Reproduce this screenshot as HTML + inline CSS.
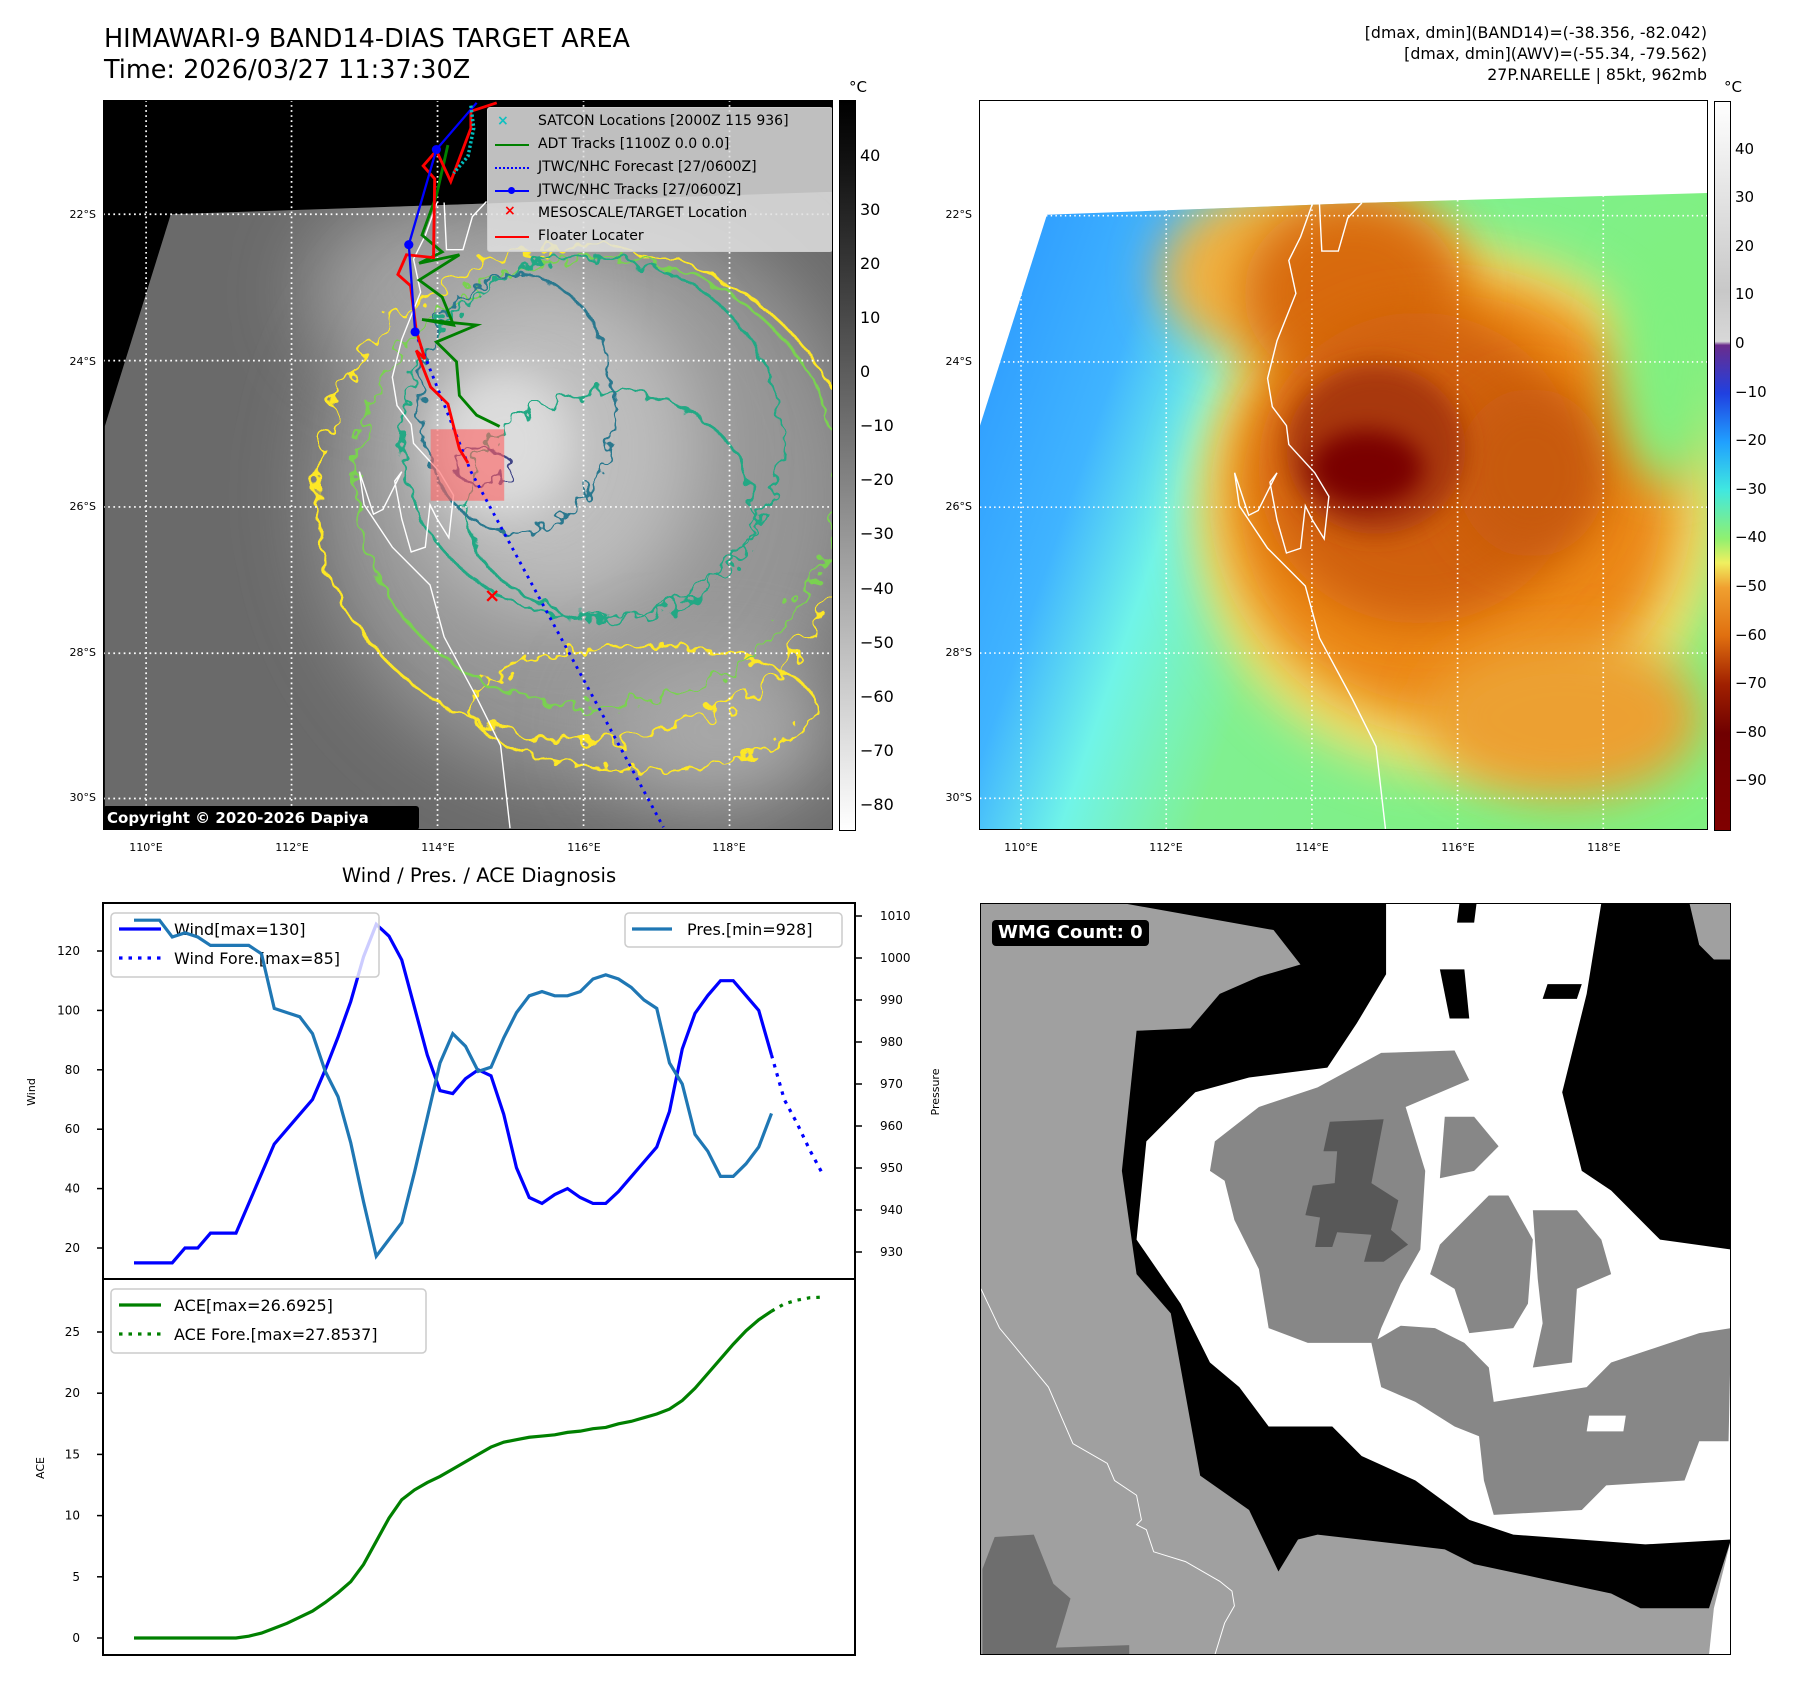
<!DOCTYPE html>
<html><head><meta charset="utf-8"><style>
body{margin:0;background:#fff;width:1797px;height:1690px;position:relative;overflow:hidden;font-family:"DejaVu Sans","Liberation Sans",sans-serif}
.t{position:absolute;white-space:nowrap;color:#000}
svg{position:absolute}
</style></head><body>

<div class="t" style="left:104px;top:24px;font-size:25.5px;line-height:31px">HIMAWARI-9 BAND14-DIAS TARGET AREA<br>Time: 2026/03/27 11:37:30Z</div>
<div class="t" style="right:90px;top:22px;font-size:15.8px;line-height:21px;text-align:right">[dmax, dmin](BAND14)=(-38.356, -82.042)<br>[dmax, dmin](AWV)=(-55.34, -79.562)<br>27P.NARELLE | 85kt, 962mb</div>

<!-- LEFT MAP -->
<svg style="left:103px;top:100px" width="730" height="730" viewBox="180 180 1270 1297" preserveAspectRatio="none">
<defs>
<clipPath id="dp"><polygon points="298,383 1450,343 1450,1477 183,1477 183,760"/></clipPath>
<filter id="b80" x="-50%" y="-50%" width="200%" height="200%"><feGaussianBlur stdDeviation="70"/></filter>
<filter id="b40" x="-50%" y="-50%" width="200%" height="200%"><feGaussianBlur stdDeviation="35"/></filter>
<filter id="wig" x="-20%" y="-20%" width="140%" height="140%"><feTurbulence type="fractalNoise" baseFrequency="0.03" numOctaves="2" seed="3"/><feDisplacementMap in="SourceGraphic" scale="65"/></filter>
<filter id="wig2" x="-20%" y="-20%" width="140%" height="140%"><feTurbulence type="fractalNoise" baseFrequency="0.035" numOctaves="2" seed="7"/><feDisplacementMap in="SourceGraphic" scale="55"/></filter>
<filter id="wig3" x="-20%" y="-20%" width="140%" height="140%"><feTurbulence type="fractalNoise" baseFrequency="0.04" numOctaves="2" seed="11"/><feDisplacementMap in="SourceGraphic" scale="45"/></filter>
</defs>
<rect x="180" y="180" width="1270" height="1297" fill="#000"/>
<g clip-path="url(#dp)">
<rect x="180" y="300" width="1270" height="1200" fill="#6a6a6a"/>
<ellipse cx="1030" cy="880" rx="480" ry="520" fill="#959595" filter="url(#b80)"/>
<ellipse cx="760" cy="520" rx="220" ry="160" fill="#a0a0a0" filter="url(#b80)"/>
<ellipse cx="960" cy="800" rx="260" ry="300" fill="#bdbdbd" filter="url(#b80)"/>
<ellipse cx="880" cy="790" rx="120" ry="130" fill="#dcdcdc" filter="url(#b40)"/>
<ellipse cx="1250" cy="1300" rx="200" ry="140" fill="#a8a8a8" filter="url(#b80)"/>
<g fill="none" stroke-width="5">
<ellipse cx="1020" cy="880" rx="470" ry="440" stroke="#fde725" filter="url(#wig)"/>
<ellipse cx="1120" cy="1260" rx="300" ry="110" stroke="#fde725" filter="url(#wig3)"/>
<ellipse cx="1040" cy="860" rx="420" ry="400" stroke="#7ad151" filter="url(#wig2)"/>
<ellipse cx="1030" cy="780" rx="330" ry="320" stroke="#22a884" filter="url(#wig3)"/>
<ellipse cx="1060" cy="900" rx="250" ry="200" stroke="#22a884" filter="url(#wig2)"/>
<ellipse cx="900" cy="720" rx="170" ry="230" stroke="#2a788e" filter="url(#wig3)"/>
<ellipse cx="840" cy="830" rx="50" ry="32" stroke="#414487" filter="url(#wig3)"/>
</g>
</g>
<g stroke="#fff" stroke-width="3" stroke-dasharray="3,6">
<line x1="255" y1="180" x2="255" y2="1477"/><line x1="508" y1="180" x2="508" y2="1477"/><line x1="762" y1="180" x2="762" y2="1477"/><line x1="1016" y1="180" x2="1016" y2="1477"/><line x1="1270" y1="180" x2="1270" y2="1477"/>
<line x1="180" y1="383" x2="1450" y2="383"/><line x1="180" y1="643" x2="1450" y2="643"/><line x1="180" y1="903" x2="1450" y2="903"/><line x1="180" y1="1163" x2="1450" y2="1163"/><line x1="180" y1="1421" x2="1450" y2="1421"/>
</g>
<g transform="matrix(0.819 0 0 0.839 175.6 169.1)"><path d="M820,228 L790,260 L770,330 L735,330 L730,230 M715,230 L690,300 L665,350 L680,420 L640,520 L620,600 L630,660 L660,700 L665,740 L720,800 L750,850 L740,940 L715,900 L700,870 L690,960 L660,970 L640,900 L625,820 L640,800 L600,880 L580,890 L550,800 L560,870 L620,960 L700,1040 L730,1150 L800,1280 L850,1380 L870,1555" fill="none" stroke="#fff" stroke-width="3"/></g>
<rect x="750" y="765" width="128" height="127" fill="#ff6060" fill-opacity="0.6"/>
<polyline points="780,260 760,350 735,420 770,450 730,470 800,455 730,500 770,530 790,580 735,570 830,580 760,610 795,645 800,705 830,740 870,760" fill="none" stroke="#008000" stroke-width="5"/>
<polyline points="723,592 820,840 1155,1472" fill="none" stroke="#0000ff" stroke-width="5" stroke-dasharray="5,9"/>
<polyline points="865,185 820,200 820,230 785,325 760,270 737,297 757,320 755,460 708,455 693,490 715,510 725,590 740,640 725,625 750,690 780,720 800,800 815,825" fill="none" stroke="#ff0000" stroke-width="5"/>
<polyline points="830,185 760,268 712,437 723,592" fill="none" stroke="#0000ff" stroke-width="4"/>
<circle cx="760" cy="268" r="8" fill="#00f"/><circle cx="712" cy="437" r="8" fill="#00f"/><circle cx="723" cy="592" r="8" fill="#00f"/>
<polyline points="820,190 825,230 815,280 790,310" fill="none" stroke="#00c0c0" stroke-width="6" stroke-dasharray="4,4"/>
<text x="857" y="1072" font-size="34" fill="#f00" text-anchor="middle" font-weight="bold">×</text>
</svg>

<div style="position:absolute;left:487px;top:107px;width:344px;height:143px;background:rgba(225,225,225,0.85);border:1px solid #ccc;border-radius:3px;font-size:14px">
<div class="t" style="left:9px;top:5px;color:#10c0c0;font-weight:bold">×</div><div class="t" style="left:50px;top:5px">SATCON Locations [2000Z 115 936]</div>
<div style="position:absolute;left:7px;top:36px;width:34px;height:2px;background:#008000"></div><div class="t" style="left:50px;top:28px">ADT Tracks [1100Z 0.0 0.0]</div>
<div style="position:absolute;left:7px;top:59px;width:34px;height:0;border-top:2px dotted #00f"></div><div class="t" style="left:50px;top:51px">JTWC/NHC Forecast [27/0600Z]</div>
<div style="position:absolute;left:7px;top:82px;width:34px;height:2px;background:#00f"></div><div style="position:absolute;left:20px;top:79px;width:7px;height:7px;border-radius:50%;background:#00f"></div><div class="t" style="left:50px;top:74px">JTWC/NHC Tracks [27/0600Z]</div>
<div class="t" style="left:16px;top:95px;color:#f00;font-weight:bold">×</div><div class="t" style="left:50px;top:97px">MESOSCALE/TARGET Location</div>
<div style="position:absolute;left:7px;top:128px;width:34px;height:2px;background:#f00"></div><div class="t" style="left:50px;top:120px">Floater Locater</div>
</div>
<div class="t" style="left:103px;top:806px;width:312px;height:24px;background:#000;color:#fff;font-weight:bold;font-size:15px;line-height:24px;padding-left:4px;border-radius:3px">Copyright © 2020-2026 Dapiya</div>
<div style="position:absolute;left:103px;top:100px;width:728px;height:728px;border:1.5px solid #000"></div>

<!-- left colorbar -->
<div style="position:absolute;left:839px;top:100px;width:15px;height:729px;border:1px solid #000;background:linear-gradient(#000 0%,#111 8%,#fff 100%)"></div>
<div class="t" style="left:849px;top:78px;font-size:15px">°C</div>
<div id="lcb"></div>

<!-- RIGHT MAP -->
<svg style="left:980px;top:101px" width="727" height="728" viewBox="10 12 1542 1543" preserveAspectRatio="none">
<defs>
<clipPath id="dp2"><polygon points="152,253 820,228 1552,207 1552,1555 10,1555 10,700"/></clipPath>
<linearGradient id="bg2" x1="0" y1="0" x2="1" y2="0.3"><stop offset="0" stop-color="#2894ff"/><stop offset="0.25" stop-color="#40b4ff"/><stop offset="0.38" stop-color="#70f4e8"/><stop offset="0.55" stop-color="#80f090"/><stop offset="1" stop-color="#80f080"/></linearGradient>
<filter id="c60" x="-50%" y="-50%" width="200%" height="200%"><feGaussianBlur stdDeviation="50"/></filter>
<filter id="c30" x="-50%" y="-50%" width="200%" height="200%"><feGaussianBlur stdDeviation="25"/></filter>
</defs>
<rect x="10" y="12" width="1542" height="1543" fill="#fff"/>
<g clip-path="url(#dp2)">
<rect x="0" y="200" width="1560" height="1360" fill="url(#bg2)"/>
<ellipse cx="1020" cy="880" rx="560" ry="560" fill="#f0e070" filter="url(#c60)"/>
<ellipse cx="720" cy="380" rx="330" ry="200" fill="#f0b040" filter="url(#c60)"/>
<ellipse cx="1010" cy="860" rx="480" ry="470" fill="#ec8818" filter="url(#c60)"/>
<ellipse cx="800" cy="420" rx="230" ry="200" fill="#d86a10" filter="url(#c60)"/>
<ellipse cx="940" cy="790" rx="340" ry="330" fill="#d06008" filter="url(#c60)"/>
<ellipse cx="1250" cy="1320" rx="290" ry="170" fill="#eca030" filter="url(#c60)"/>
<ellipse cx="1180" cy="800" rx="160" ry="180" fill="#c85a08" filter="url(#c60)"/>
<ellipse cx="850" cy="750" rx="190" ry="180" fill="#a83808" filter="url(#c30)"/>
<ellipse cx="830" cy="790" rx="120" ry="80" fill="#7a0000" filter="url(#c30)"/>
<ellipse cx="1470" cy="560" rx="110" ry="260" fill="#80f080" filter="url(#c60)"/>
</g>
<g stroke="#fff" stroke-width="3.5" stroke-dasharray="3,7">
<line x1="97" y1="12" x2="97" y2="1555"/><line x1="405" y1="12" x2="405" y2="1555"/><line x1="714" y1="12" x2="714" y2="1555"/><line x1="1023" y1="12" x2="1023" y2="1555"/><line x1="1332" y1="12" x2="1332" y2="1555"/>
<line x1="10" y1="255" x2="1552" y2="255"/><line x1="10" y1="565" x2="1552" y2="565"/><line x1="10" y1="873" x2="1552" y2="873"/><line x1="10" y1="1182" x2="1552" y2="1182"/><line x1="10" y1="1490" x2="1552" y2="1490"/>
</g>
<path d="M820,228 L790,260 L770,330 L735,330 L730,230 M715,230 L690,300 L665,350 L680,420 L640,520 L620,600 L630,660 L660,700 L665,740 L720,800 L750,850 L740,940 L715,900 L700,870 L690,960 L660,970 L640,900 L625,820 L640,800 L600,880 L580,890 L550,800 L560,870 L620,960 L700,1040 L730,1150 L800,1280 L850,1380 L870,1555" fill="none" stroke="#fff" stroke-width="3"/>
</svg>
<div style="position:absolute;left:979px;top:100px;width:727px;height:728px;border:1.5px solid #000"></div>
<div style="position:absolute;left:1714px;top:101px;width:15px;height:728px;border:1px solid #000;background:linear-gradient(#ffffff 0%,#f0f0f0 7%,#c8c8c8 26%,#d8d8d8 32.9%,#6a2c8c 33.4%,#2040e0 40%,#20a0ff 46.7%,#40e8e0 53.3%,#90f070 60%,#f0f060 63.3%,#f0a030 66.7%,#e07010 73.3%,#a02000 80%,#700000 86.7%,#800000 100%)"></div>
<div class="t" style="left:1724px;top:78px;font-size:15px">°C</div>
<div id="rcb"></div>
<div id="maplabels"></div>

<!-- TIME SERIES -->
<div class="t" style="left:479px;top:864px;transform:translateX(-50%);font-size:19.5px">Wind / Pres. / ACE Diagnosis</div>
<svg id="ts" style="left:0;top:0" width="1797" height="1690"></svg>

<!-- WMG PANEL -->
<svg style="left:980px;top:903px" width="751" height="752" viewBox="10 15 1535 1530" preserveAspectRatio="none">
<rect x="0" y="0" width="1560" height="1560" fill="#a0a0a0"/>
<polygon fill="#000" points="300,15 1460,15 1510,100 1545,130 1545,1310 1500,1450 1360,1450 1300,1420 1160,1390 1020,1360 960,1330 700,1300 660,1310 620,1375 560,1250 460,1180 400,850 330,770 300,560 330,275 440,270 500,200 580,165 665,140 610,70"/>
<polygon fill="#a0a0a0" points="1460,15 1545,15 1545,130 1510,130 1480,100"/>
<polygon fill="#fff" points="840,15 1280,15 1250,200 1200,400 1240,560 1300,600 1400,700 1545,720 1545,1310 1370,1320 1100,1300 1010,1270 900,1190 790,1140 730,1080 600,1080 540,1000 480,950 420,830 330,700 350,500 450,400 560,370 720,350 780,260 840,160"/>
<polygon fill="#000" points="950,150 1000,150 1010,250 970,250"/><polygon fill="#000" points="1170,180 1240,180 1230,210 1160,210"/><polygon fill="#000" points="990,15 1025,15 1020,55 985,55"/>
<g fill="#878787">
<polygon points="490,500 580,430 700,390 830,320 980,315 1010,375 880,430 920,560 910,720 870,790 830,880 820,910 680,910 600,880 580,760 530,660 510,580 480,560"/>
<polygon points="950,710 1050,610 1090,610 1140,700 1130,830 1100,880 1010,890 980,800 930,770"/>
<polygon points="1140,640 1230,640 1280,700 1300,770 1230,800 1220,950 1140,960 1160,870 1150,780"/>
<polygon points="960,450 1020,450 1070,510 1020,560 950,575"/>
<polygon points="810,910 870,875 940,880 1000,910 1050,960 1060,1030 1250,1000 1300,950 1480,890 1545,880 1540,1110 1480,1110 1450,1190 1290,1200 1240,1250 1060,1260 1040,1190 1030,1100 980,1080 900,1030 830,1000"/>
</g>
<polygon fill="#fff" points="1255,1058 1330,1058 1325,1090 1250,1090"/>
<polygon fill="#585858" points="725,460 835,455 810,585 865,620 850,680 885,710 835,745 795,745 810,690 740,685 730,715 695,715 705,655 675,650 690,590 735,585 740,520 712,520"/>
<polygon fill="#6e6e6e" points="15,1370 40,1305 120,1300 160,1400 195,1430 165,1530 315,1525 315,1545 15,1545"/>
<polygon fill="#fff" points="1510,1450 1545,1310 1545,1545 1500,1545"/>
<path d="M12,800 L50,880 L150,1000 L200,1115 L270,1155 L285,1190 L330,1220 L340,1270 L330,1280 L350,1290 L365,1335 L430,1355 L500,1395 L525,1415 L530,1445 L510,1480 L490,1545" fill="none" stroke="#fff" stroke-width="2"/>
</svg>
<div style="position:absolute;left:980px;top:903px;width:749px;height:750px;border:1.5px solid #000"></div>
<div class="t" style="left:992px;top:920px;background:#000;color:#fff;font-weight:bold;font-size:18px;line-height:26px;padding:0 6px;border-radius:4px">WMG Count: 0</div>

<script>
// ---- chart data ----
const windObs=[15,15,15,15,20,20,25,25,25,35,45,55,60,65,70,80,91,103,118,129,125,117,101,85,73,72,77,80,78,65,47,37,35,38,40,37,35,35,39,44,49,54,66,87,99,105,110,110,105,100,85];
const windFore=[85,70,62,53,45];
const presObs=[1009,1009,1009,1005,1006,1005,1003,1003,1003,1003,1001,988,987,986,982,973,967,956,942,929,933,937,949,962,975,982,979,973,974,981,987,991,992,991,991,992,995,996,995,993,990,988,975,970,958,954,948,948,951,955,963];
const aceObs=[0,0,0,0,0,0,0,0,0,0.15,0.4,0.8,1.2,1.7,2.2,2.9,3.7,4.6,6.0,7.9,9.8,11.3,12.1,12.7,13.2,13.8,14.4,15.0,15.6,16.0,16.2,16.4,16.5,16.6,16.8,16.9,17.1,17.2,17.5,17.7,18.0,18.3,18.7,19.4,20.4,21.6,22.8,24.0,25.1,26.0,26.7];
const aceFore=[26.7,27.3,27.6,27.8,27.85];
const windTicks=[20,40,60,80,100,120];
const presTicks=[930,940,950,960,970,980,990,1000,1010];
const aceTicks=[0,5,10,15,20,25];
const lonLabels=['110°E','112°E','114°E','116°E','118°E'];
const latLabels=['22°S','24°S','26°S','28°S','30°S'];
const leftCbTicks=[40,30,20,10,0,-10,-20,-30,-40,-50,-60,-70,-80];
const rightCbTicks=[40,30,20,10,0,-10,-20,-30,-40,-50,-60,-70,-80,-90];

const NS='http://www.w3.org/2000/svg';
const ts=document.getElementById('ts');
const xOf=i=>134+i*12.75;
const yW=w=>951+(120-w)*2.97;
const yP=p=>916+(1010-p)*4.2;
const yA=a=>1638-a*12.24;
function mk(tag,attrs,parent){const e=document.createElementNS(NS,tag);for(const k in attrs)e.setAttribute(k,attrs[k]);(parent||ts).appendChild(e);return e;}
function txt(x,y,s,size,anchor,parent){const e=mk('text',{x:x,y:y,'font-size':size,'text-anchor':anchor||'start','font-family':'DejaVu Sans, Liberation Sans, sans-serif'},parent);e.textContent=s;return e;}
function pts(arr,yf,off){return arr.map((v,i)=>xOf(i+off)+','+yf(v)).join(' ');}

let r=mk('rect',{x:103,y:903,width:752,height:376,fill:'none',stroke:'#000','stroke-width':2});


r=mk('rect',{x:103,y:1279,width:752,height:376,fill:'none',stroke:'#000','stroke-width':2});



windTicks.forEach(v=>{mk('line',{x1:97,x2:103,y1:yW(v),y2:yW(v),stroke:'#000','stroke-width':1.5});const t=txt(80,yW(v)+4,String(v),12,'end');});
presTicks.forEach(v=>{mk('line',{x1:855,x2:862,y1:yP(v),y2:yP(v),stroke:'#000','stroke-width':1.5});const t=txt(880,yP(v)+4,String(v),12,'start');});
aceTicks.forEach(v=>{mk('line',{x1:97,x2:103,y1:yA(v),y2:yA(v),stroke:'#000','stroke-width':1.5});const t=txt(80,yA(v)+4,String(v),12,'end');});
let yl=txt(0,0,'Wind',11,'middle');yl.setAttribute('transform','translate(35,1092) rotate(-90)');


yl=txt(0,0,'Pressure',11,'middle');yl.setAttribute('transform','translate(939,1092) rotate(-90)');


yl=txt(0,0,'ACE',11,'middle');yl.setAttribute('transform','translate(44,1468) rotate(-90)');



let s=mk('polyline',{points:pts(windObs,yW,0),fill:'none',stroke:'#0000ff','stroke-width':3.2});


s=mk('polyline',{points:pts(windFore,yW,windObs.length-1),fill:'none',stroke:'#0000ff','stroke-width':3.2,'stroke-dasharray':'3.5,6'});


let lg=mk('rect',{x:111,y:913,width:268,height:64,rx:4,fill:'#fff','fill-opacity':0.8,stroke:'#ccc','stroke-width':1.5});


mk('line',{x1:119,x2:161,y1:929,y2:929,stroke:'#0000ff','stroke-width':3.2});
txt(174,935,'Wind[max=130]',16);
mk('line',{x1:119,x2:161,y1:958,y2:958,stroke:'#0000ff','stroke-width':3.2,'stroke-dasharray':'3.5,6'});
txt(174,964,'Wind Fore.[max=85]',16);
s=mk('polyline',{points:pts(presObs,yP,0),fill:'none',stroke:'#1f77b4','stroke-width':3.2});


lg=mk('rect',{x:625,y:913,width:217,height:34,rx:4,fill:'#fff','fill-opacity':0.8,stroke:'#ccc','stroke-width':1.5});


mk('line',{x1:632,x2:672,y1:929,y2:929,stroke:'#1f77b4','stroke-width':3.2});
txt(687,935,'Pres.[min=928]',16);
s=mk('polyline',{points:pts(aceObs,yA,0),fill:'none',stroke:'#008000','stroke-width':3.2});


s=mk('polyline',{points:pts(aceFore,yA,aceObs.length-1),fill:'none',stroke:'#008000','stroke-width':3.2,'stroke-dasharray':'3.5,6'});


lg=mk('rect',{x:111,y:1289,width:315,height:64,rx:4,fill:'#fff','fill-opacity':0.8,stroke:'#ccc','stroke-width':1.5});


mk('line',{x1:119,x2:161,y1:1305,y2:1305,stroke:'#008000','stroke-width':3.2});
txt(174,1311,'ACE[max=26.6925]',16);
mk('line',{x1:119,x2:161,y1:1334,y2:1334,stroke:'#008000','stroke-width':3.2,'stroke-dasharray':'3.5,6'});
txt(174,1340,'ACE Fore.[max=27.8537]',16);

const lonXL=[146,292,438,584,729], lonXR=[1021,1166,1312,1458,1604], latY=[215,362,507,653,798];
function addDiv(parent,x,y,s,size,name,tr){const d=document.createElement('div');d.className='t';d.style.left=x+'px';d.style.top=y+'px';d.style.fontSize=size+'px';if(tr)d.style.transform=tr;d.textContent=s;parent.appendChild(d);}
const ml=document.getElementById('maplabels');
lonLabels.forEach((l,i)=>{addDiv(ml,lonXL[i],841,l,11,'lon-label','translateX(-50%)');addDiv(ml,lonXR[i],841,l,11,'lon-label','translateX(-50%)');});
latLabels.forEach((l,i)=>{addDiv(ml,96,latY[i]-7,l,11,'lat-label','translateX(-100%)');addDiv(ml,972,latY[i]-7,l,11,'lat-label','translateX(-100%)');});
const lcb=document.getElementById('lcb');
leftCbTicks.forEach(v=>{const y=100+(50.3-v)*5.41;addDiv(lcb,860,y-10,(v<0?'\u2212'+(-v):String(v)),16,'left-colorbar-tick');});
const rcb=document.getElementById('rcb');
rightCbTicks.forEach(v=>{const y=101+(50-v)*4.86;addDiv(rcb,1735,y-10,(v<0?'\u2212'+(-v):String(v)),15,'right-colorbar-tick');});
</script>
</body></html>
